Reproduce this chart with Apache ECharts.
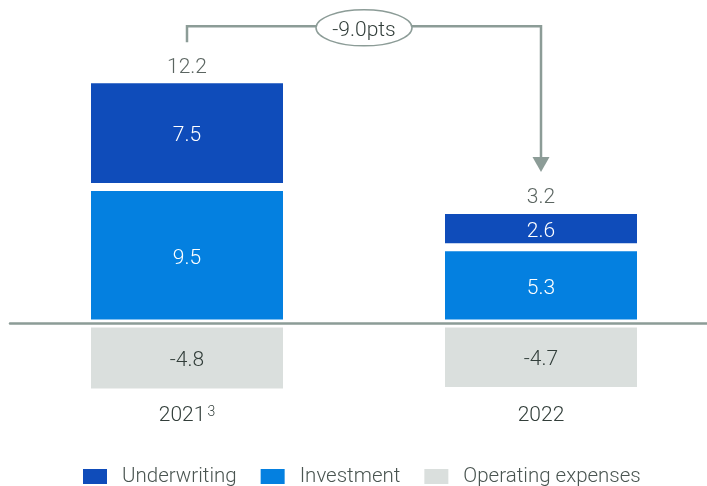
<!DOCTYPE html>
<html>
<head>
<meta charset="utf-8">
<script src="https://cdn.jsdelivr.net/npm/echarts@6/dist/echarts.min.js"></script>
<style>
  html, body { margin: 0; padding: 0; background: #fff; }
  #chart { width: 707px; height: 486px; }
</style>
</head>
<body>
<div id="chart"></div>
<script>
// Combined ratio components by year (pts)
const categories = ['2021', '2022'];
const categoryNotes = ['3', ''];
const underwriting = [7.5, 2.6];
const investment = [9.5, 5.3];
const operatingExpenses = [-4.8, -4.7];
const totals = [12.2, 3.2];
const changeLabel = '-9.0pts';

const FONT = 'Roboto, "Noto Sans", sans-serif';
const FS = 21;
const TEXT = '#323e3a';
const RULE = '#8c9c97';
const C_UW = '#0f4cba';
const C_INV = '#0480e0';
const C_OPEX = '#dadfdd';

// positive stack height, used to park the total labels above each column
const positiveTops = categories.map((_, i) => investment[i] + underwriting[i]);

const chart = echarts.init(document.getElementById('chart'), null, { renderer: 'canvas' });

const barLabel = {
  show: true,
  position: 'inside',
  offset: [0, 3],
  fontFamily: FONT,
  fontSize: FS,
  fontWeight: 300,
  formatter: p => p.value.toFixed(1)
};

function barSeries(name, data, color, labelColor) {
  return {
    type: 'bar',
    name: name,
    stack: 'total',
    barWidth: 200,
    xAxisIndex: 0,
    yAxisIndex: 0,
    data: data,
    itemStyle: { color: color, borderColor: '#fff', borderWidth: 4 },
    emphasis: { disabled: true },
    label: Object.assign({}, barLabel, { color: labelColor })
  };
}

chart.setOption({
  animation: false,
  textStyle: { fontFamily: FONT },
  grid: { left: 10, width: 708, top: 65, height: 336, outerBoundsMode: 'none', containLabel: false },
  legend: {
    data: ['Underwriting', 'Investment', 'Operating expenses'],
    left: 81,
    top: 466,
    padding: 0,
    itemWidth: 26,
    itemHeight: 17,
    itemGap: 22,
    icon: 'rect',
    textStyle: { fontFamily: FONT, fontSize: 20.5, fontWeight: 300, color: '#4a5551', padding: [2, 0, 0, 9] },
    selectedMode: false
  },
  xAxis: [
    {
      type: 'category',
      data: categories,
      z: 10,
      axisLine: { show: true, onZero: true, lineStyle: { color: RULE, width: 2.5 } },
      axisTick: { show: false },
      axisLabel: { show: false }
    },
    {
      type: 'category',
      data: categories,
      position: 'bottom',
      axisLine: { show: false, onZero: false },
      axisTick: { show: false },
      axisLabel: {
        margin: 4,
        formatter: (v, i) => categoryNotes[i] ? v + '{sup|' + categoryNotes[i] + '}' : v,
        fontFamily: FONT,
        fontSize: FS,
        fontWeight: 300,
        color: TEXT,
        rich: {
          sup: { fontFamily: FONT, fontSize: 14, fontWeight: 300, color: TEXT, verticalAlign: 'top', padding: [0, 0, 8, 2] }
        }
      }
    }
  ],
  yAxis: { type: 'value', min: -5.4, max: 18, show: false, splitLine: { show: false } },
  series: [
    barSeries('Investment', investment, C_INV, '#fff'),
    barSeries('Underwriting', underwriting, C_UW, '#fff'),
    barSeries('Operating expenses', operatingExpenses, C_OPEX, TEXT),
    {
      type: 'scatter',
      name: 'Total',
      xAxisIndex: 0,
      yAxisIndex: 0,
      symbolSize: 1,
      itemStyle: { color: 'transparent' },
      silent: true,
      data: positiveTops.map((v, i) => [i, v]),
      label: {
        show: true,
        position: 'top',
        distance: 1,
        fontFamily: FONT,
        fontSize: FS,
        fontWeight: 300,
        color: TEXT,
        formatter: p => totals[p.dataIndex].toFixed(1)
      }
    }
  ]
});

// Connector from the first column to the second, with the change badge
function drawConnector() {
  const a = chart.convertToPixel({ xAxisIndex: 0, yAxisIndex: 0 }, [0, positiveTops[0]]);
  const b = chart.convertToPixel({ xAxisIndex: 0, yAxisIndex: 0 }, [1, positiveTops[1]]);
  const topY = Math.min(a[1], b[1]) - 53;
  const startY = a[1] - 37;
  const tipY = b[1] - 38;
  const headH = 15;
  const headW = 17;
  const midX = (a[0] + b[0]) / 2;
  chart.setOption({
    graphic: [
      {
        type: 'polyline',
        shape: { points: [[a[0], startY], [a[0], topY], [b[0], topY], [b[0], tipY - headH + 1]] },
        style: { stroke: RULE, lineWidth: 2.5, fill: null },
        silent: true
      },
      {
        type: 'polygon',
        shape: { points: [[b[0] - headW / 2, tipY - headH], [b[0] + headW / 2, tipY - headH], [b[0], tipY]] },
        style: { fill: RULE },
        silent: true
      },
      {
        type: 'ellipse',
        shape: { cx: midX, cy: topY + 1.5, rx: 48, ry: 18 },
        style: { fill: '#fff', stroke: RULE, lineWidth: 1.5 },
        silent: true
      },
      {
        type: 'text',
        x: midX,
        y: topY + 4,
        style: {
          text: changeLabel,
          fontFamily: FONT,
          fontSize: FS,
          fontWeight: 300,
          fill: TEXT,
          align: 'center',
          verticalAlign: 'middle'
        },
        silent: true
      }
    ]
  });
}
drawConnector();
</script>
</body>
</html>
